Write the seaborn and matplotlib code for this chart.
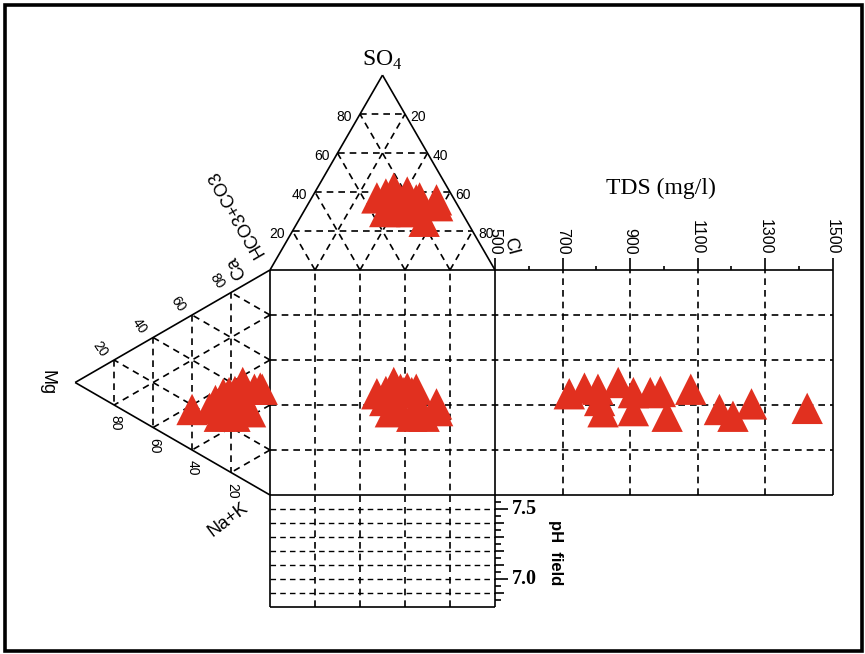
import numpy as np
import pandas as pd
import matplotlib
matplotlib.use("Agg")
import matplotlib.pyplot as plt
import seaborn as sns
from matplotlib.patches import Rectangle

# Major-ion composition (meq %) and TDS of the groundwater samples
ca   = [33, 45, 45, 43, 35, 38, 37, 43, 18, 22, 29, 23, 28, 32, 31, 26]
mg   = [24,  5,  4, 14, 21, 15, 18,  8, 40, 26, 23, 31, 28, 10, 13, 18]
nak  = [43, 50, 51, 43, 44, 47, 45, 49, 42, 52, 48, 46, 44, 58, 56, 56]
hco3 = [34, 19, 17, 24, 24, 21, 29, 27, 24, 22,  8, 15, 34, 30,  9, 19]
so4  = [37, 40, 36, 42, 33, 32, 39, 30, 36, 30, 36, 37, 30, 33, 33, 25]
cl   = [29, 41, 47, 34, 43, 47, 32, 43, 40, 48, 56, 48, 36, 37, 58, 56]
tds  = [720, 765, 805, 865, 910, 960, 990, 1080, 1165, 1205, 1260, 1425,
        810, 820, 910, 1010]

tds_ticks = [500, 700, 900, 1100, 1300, 1500]
ph_labels = [7.5, 7.0]
pct_ticks = [20, 40, 60, 80]

sns.set_style("white")
plt.rcParams["font.family"] = ["Liberation Sans", "DejaVu Sans"]
plt.rcParams["text.color"] = "black"
plt.rcParams["mathtext.fontset"] = "custom"
plt.rcParams["mathtext.rm"] = "Liberation Serif"

S3 = np.sqrt(3) / 2
TDS_MIN, TDS_MAX, TDS_W = 500, 1500, 150.0
PH_TOP, PH_BOT, PH_H = 7.6, 6.8, 50.0
RED = "#e1301f"
LW = 1.2
DASH = (0, (4, 3))


def cation_xy(c, m, n):
    c, m, n = (np.asarray(v, float) for v in (c, m, n))
    t = c + m + n
    c, m = 100 * c / t, 100 * m / t
    return -S3 * m, c + 0.5 * m


def anion_xy(h, s, c):
    h, s, c = (np.asarray(v, float) for v in (h, s, c))
    t = h + s + c
    s, c = 100 * s / t, 100 * c / t
    return c + 0.5 * s, 100 + S3 * s


def tds_x(t):
    return 100 + (np.asarray(t, float) - TDS_MIN) / (TDS_MAX - TDS_MIN) * TDS_W


def ph_y(p):
    return -(PH_TOP - np.asarray(p, float)) / (PH_TOP - PH_BOT) * PH_H


fig = plt.figure(figsize=(8.65, 6.54), dpi=100)
ax = fig.add_axes([0, 0, 1, 1])

fig.patches.append(Rectangle((5 / 865, 3 / 654), 857 / 865, 646 / 654,
                             transform=fig.transFigure, fill=False,
                             lw=2.6, ec="black"))


def line(p, q, dashed=False, lw=LW):
    ax.plot([p[0], q[0]], [p[1], q[1]], color="black", lw=lw,
            ls=DASH if dashed else "-", solid_capstyle="butt", zorder=2)


def tri_grid(verts):
    v = [np.array(p, float) for p in verts]
    for i in range(3):
        j, l = [k for k in range(3) if k != i]
        for k in pct_ticks:
            f = k / 100
            line(f * v[i] + (1 - f) * v[j], f * v[i] + (1 - f) * v[l], dashed=True)


# Anion triangle (HCO3+CO3, Cl, SO4)
A_H, A_C, A_S = (0, 100), (100, 100), (50, 100 + S3 * 100)
tri_grid([A_H, A_C, A_S])
line(A_H, A_S)
line(A_C, A_S)
for k in pct_ticks:
    y = 100 + S3 * k
    ax.text(0.5 * k - 6.9, y - 1.3, str(k), fontsize=10, ha="center", va="center")
    ax.text(100 - 0.5 * k + 5.9, y - 1.3, str(100 - k), fontsize=10,
            ha="center", va="center")

# Cation triangle (Ca, Na+K, Mg)
C_C, C_N, C_M = (0, 100), (0, 0), (-S3 * 100, 50)
tri_grid([C_C, C_N, C_M])
line(C_C, C_M)
line(C_N, C_M)
for m in pct_ticks:
    x = -S3 * m
    ax.text(x - 6.2, 100 - 0.5 * m + 4.9, str(100 - m), fontsize=10,
            ha="center", va="center", rotation=-55)
    ax.text(x + 0.4, 0.5 * m - 8.0, str(m), fontsize=10,
            ha="center", va="center", rotation=-90)

# Central square, TDS and pH panels: dashed grid
for k in pct_ticks:
    line((k, -PH_H), (k, 100), dashed=True)
    line((0, k), (100 + TDS_W, k), dashed=True)
for t in tds_ticks[1:-1]:
    line((tds_x(t), 0), (tds_x(t), 100), dashed=True)
for p in np.arange(6.9, 7.55, 0.1):
    line((0, ph_y(p)), (100, ph_y(p)), dashed=True, lw=1.0)

# Solid frames
for p, q in [((0, 100), (100 + TDS_W, 100)), ((0, 0), (100 + TDS_W, 0)),
             ((100 + TDS_W, 0), (100 + TDS_W, 100)), ((0, -PH_H), (0, 100)),
             ((100, -PH_H), (100, 100)), ((0, -PH_H), (100, -PH_H))]:
    line(p, q)

# TDS axis ticks and labels
for t in range(TDS_MIN, TDS_MAX + 1, 100):
    major = t in tds_ticks
    line((tds_x(t), 100), (tds_x(t), 100 + (5.3 if major else 1.9)))
for t in tds_ticks:
    ax.text(tds_x(t), 107.0, str(t), fontsize=11.5, rotation=-90,
            ha="center", va="bottom")

# pH axis ticks and labels
for p in np.arange(6.85, 7.551, 0.05):
    p = round(p, 2)
    if abs(p * 2 - round(p * 2)) < 1e-6:
        ln = 5.6
    elif abs(p * 10 - round(p * 10)) < 1e-6:
        ln = 4.2
    else:
        ln = 2.8
    line((100, ph_y(p)), (100 + ln, ph_y(p)))
for p in ph_labels:
    ax.text(107.5, ph_y(p), f"{p:.1f}", fontsize=14.5, fontweight="bold",
            family="Liberation Serif", ha="left", va="center")
ax.text(127.1, -25.8, "pH  field", fontsize=12, fontweight="bold",
        rotation=-90, ha="center", va="center")

# Axis titles
ax.text(49.8, 193.3, r"SO$_\mathrm{4}$", fontsize=17, family="Liberation Serif",
        ha="center", va="center")
ax.text(173.8, 136.4, "TDS (mg/l)", fontsize=17, family="Liberation Serif",
        ha="center", va="center")
ax.text(-15.1, 125.3, "HCO3+CO3", fontsize=13, rotation=120,
        ha="center", va="center")
ax.text(-14.7, 101.3, "Ca", fontsize=13, rotation=120, ha="center", va="center")
ax.text(-18.7, -11.1, "Na+K", fontsize=13, rotation=37, ha="center", va="center")
ax.text(-99.1, 49.8, "Mg", fontsize=13, rotation=-90, ha="center", va="center")
ax.text(107.1, 110.7, "Cl", fontsize=13, rotation=-75, ha="center", va="center")

# Sample points projected into each field
cx, cy = cation_xy(ca, mg, nak)
axx, ayy = anion_xy(hco3, so4, cl)
pts = pd.concat([
    pd.DataFrame({"x": cx, "y": cy, "field": "cation"}),
    pd.DataFrame({"x": axx, "y": ayy, "field": "anion"}),
    pd.DataFrame({"x": axx, "y": cy, "field": "square"}),
    pd.DataFrame({"x": tds_x(tds), "y": cy, "field": "tds"}),
], ignore_index=True)
sns.scatterplot(data=pts, x="x", y="y", marker="^", s=510, color=RED,
                edgecolor="none", linewidth=0, legend=False, ax=ax, zorder=5)
ax.set_xlim(-120, 264.44)
ax.set_ylim(-70.67, 220)
ax.axis("off")

fig.savefig("out.png", dpi=100)
